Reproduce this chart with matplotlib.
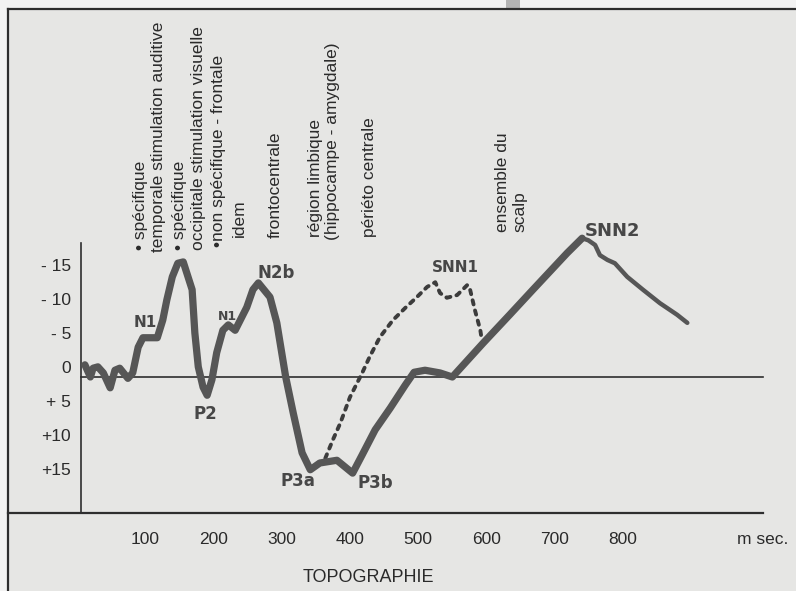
import matplotlib
matplotlib.use('Agg')
import matplotlib.pyplot as plt
from matplotlib.patches import Rectangle

# ---------------- data (time in ms, amplitude in µV, negative drawn upward) -------------
main_t = [12, 20, 24, 31, 39, 49, 56, 63, 75, 82, 90, 97, 118, 126, 132, 140, 148, 156,
          169, 173, 178, 185, 191, 198, 205, 214, 222, 232, 249, 258, 266, 283, 293,
          306, 317, 330, 342, 356, 381, 404, 418, 437, 459, 481, 494, 510, 532, 550,
          595, 634, 668, 718, 740]
main_v = [-1.8, 0.0, -1.3, -1.5, -0.6, 1.6, -1.0, -1.3, 0.2, -0.6, -4.4, -5.8, -5.8,
          -8.4, -11.4, -14.8, -16.8, -17.0, -12.9, -6.5, -1.5, 1.5, 2.7, 0.4, -3.6,
          -6.9, -7.7, -6.9, -10.3, -12.9, -13.9, -11.8, -8.0, 0.0, 5.3, 11.2, 13.7,
          12.7, 12.3, 14.2, 11.5, 7.8, 4.6, 1.2, -0.7, -1.0, -0.6, 0.0, -5.0, -9.2,
          -12.9, -18.3, -20.5]
tail_t = [740, 749, 759, 766, 777, 788, 806, 829, 854, 879, 894]
tail_v = [-20.5, -20.2, -19.5, -18.0, -17.3, -16.8, -14.8, -12.9, -10.9, -9.2, -8.0]
snn1_t = [364, 375, 386, 400, 418, 429, 444, 463, 481, 498, 513, 525, 532, 542, 557,
          572, 576, 583, 591, 593]
snn1_v = [12.0, 9.3, 6.8, 3.0, -0.6, -3.0, -5.9, -8.4, -10.2, -11.8, -13.3, -14.0,
          -12.4, -11.7, -12.1, -13.6, -12.9, -9.9, -6.9, -5.5]

xticks = [100, 200, 300, 400, 500, 600, 700, 800]
xticklabels = ['100', '200', '300', '400', '500', '600', '700', '800']
yticks = [-15, -10, -5, 0, 5, 10, 15]
yticklabels = ['- 15', '- 10', '- 5', '0', '+ 5', '+10', '+15']
x_unit = 'm sec.'
x_title = 'TOPOGRAPHIE'

region_texts = ['• spécifique', 'temporale stimulation auditive', '• spécifique',
                'occipitale stimulation visuelle', '•non spécifique - frontale', 'idem',
                'frontocentrale', 'région limbique', '(hippocampe - amygdale)',
                'périéto centrale', 'ensemble du', 'scalp']
region_t = [93, 120, 151, 178, 207, 238, 290, 349, 375, 429, 623, 649]
region_bottom = [-18.8, -18.5, -18.8, -18.8, -19.2, -20.7, -20.5, -20.7, -20.2, -20.7,
                 -21.4, -21.4]

peak_labels = ['N1', 'P2', 'N1', 'N2b', 'P3a', 'P3b', 'SNN1', 'SNN2']
peak_t = [100, 189, 221, 292, 324, 437, 555, 785]
peak_v = [-8.1, 5.5, -9.0, -15.4, 15.4, 15.7, -16.2, -21.6]
peak_size = [11, 12, 9, 12, 12, 12, 11, 13]

# ---------------- figure --------------------------------------------------------------
W, H = 796, 591
fig = plt.figure(figsize=(W / 100, H / 100), dpi=100, facecolor='#f3f3f3')
ax = fig.add_axes([0, 0, 1, 1])
ax.set_axis_off()
# pixel -> data mapping: x_px = 76.7 + 0.683 t ; y_px = 377 + 6.77 v
sx, x0 = 0.683, 76.7
sy, y0 = 6.77, 377.0
ax.set_xlim(-x0 / sx, (W - x0) / sx)
ax.set_ylim((H - y0) / sy, -y0 / sy)

def tx(px):
    return (px - x0) / sx

def vy(py):
    return (py - y0) / sy

# paper inside frame
ax.add_patch(Rectangle((tx(8), vy(9)), tx(W) - tx(8), vy(H) - vy(9),
                       facecolor='#e6e6e4', edgecolor='none', zorder=0))
# scan tab at top
ax.add_patch(Rectangle((tx(506), vy(0)), tx(520) - tx(506), vy(9) - vy(0),
                       facecolor='#b4b4b4', edgecolor='none', zorder=0))

line_c = '#2e2e2e'
# frame
ax.plot([tx(8), tx(W)], [vy(9), vy(9)], color=line_c, lw=1.6, zorder=2)
ax.plot([tx(8), tx(8)], [vy(9), vy(H)], color=line_c, lw=1.6, zorder=2)
ax.plot([tx(8), tx(763)], [vy(513), vy(513)], color=line_c, lw=1.6, zorder=2)
# y axis and baseline
ax.plot([tx(81), tx(81)], [vy(243), vy(513)], color=line_c, lw=1.2, zorder=2)
ax.plot([tx(81), tx(763)], [0, 0], color=line_c, lw=1.2, zorder=2)

curve_c = '#565656'
ax.plot(main_t, main_v, color=curve_c, lw=5.2, solid_joinstyle='round',
        solid_capstyle='round', zorder=4)
ax.plot(tail_t, tail_v, color=curve_c, lw=3.2, solid_joinstyle='round',
        solid_capstyle='round', zorder=4)
ax.plot(snn1_t, snn1_v, color='#3c3c3c', lw=2.8, linestyle=(0, (1.1, 1.6)),
        dash_capstyle='round', zorder=3)

font = 'Liberation Sans'
txt_c = '#2a2a2a'
for t, lab in zip(xticks, xticklabels):
    ax.text(t, vy(539), lab, ha='center', va='center', fontsize=12.5,
            family=font, color=txt_c)
ax.text(tx(763), vy(539), x_unit, ha='center', va='center', fontsize=12.5,
        family=font, color=txt_c)
ax.text(tx(368), vy(578), x_title, ha='center', va='center', fontsize=13,
        family=font, color=txt_c)
label_shift = vy(368.5)
for v, lab in zip(yticks, yticklabels):
    ax.text(tx(71), v + label_shift, lab, ha='right', va='center', fontsize=12.5,
            family=font, color=txt_c)

for lab, t, b in zip(region_texts, region_t, region_bottom):
    ax.text(t, b, lab, rotation=90, ha='center', va='bottom', fontsize=12.5,
            family=font, color=txt_c)

for lab, t, v, fs in zip(peak_labels, peak_t, peak_v, peak_size):
    ax.text(t, v, lab, ha='center', va='center', fontsize=fs, fontweight='bold',
            family='DejaVu Sans', color='#474747')

fig.savefig('out.png', dpi=100, facecolor=fig.get_facecolor())
